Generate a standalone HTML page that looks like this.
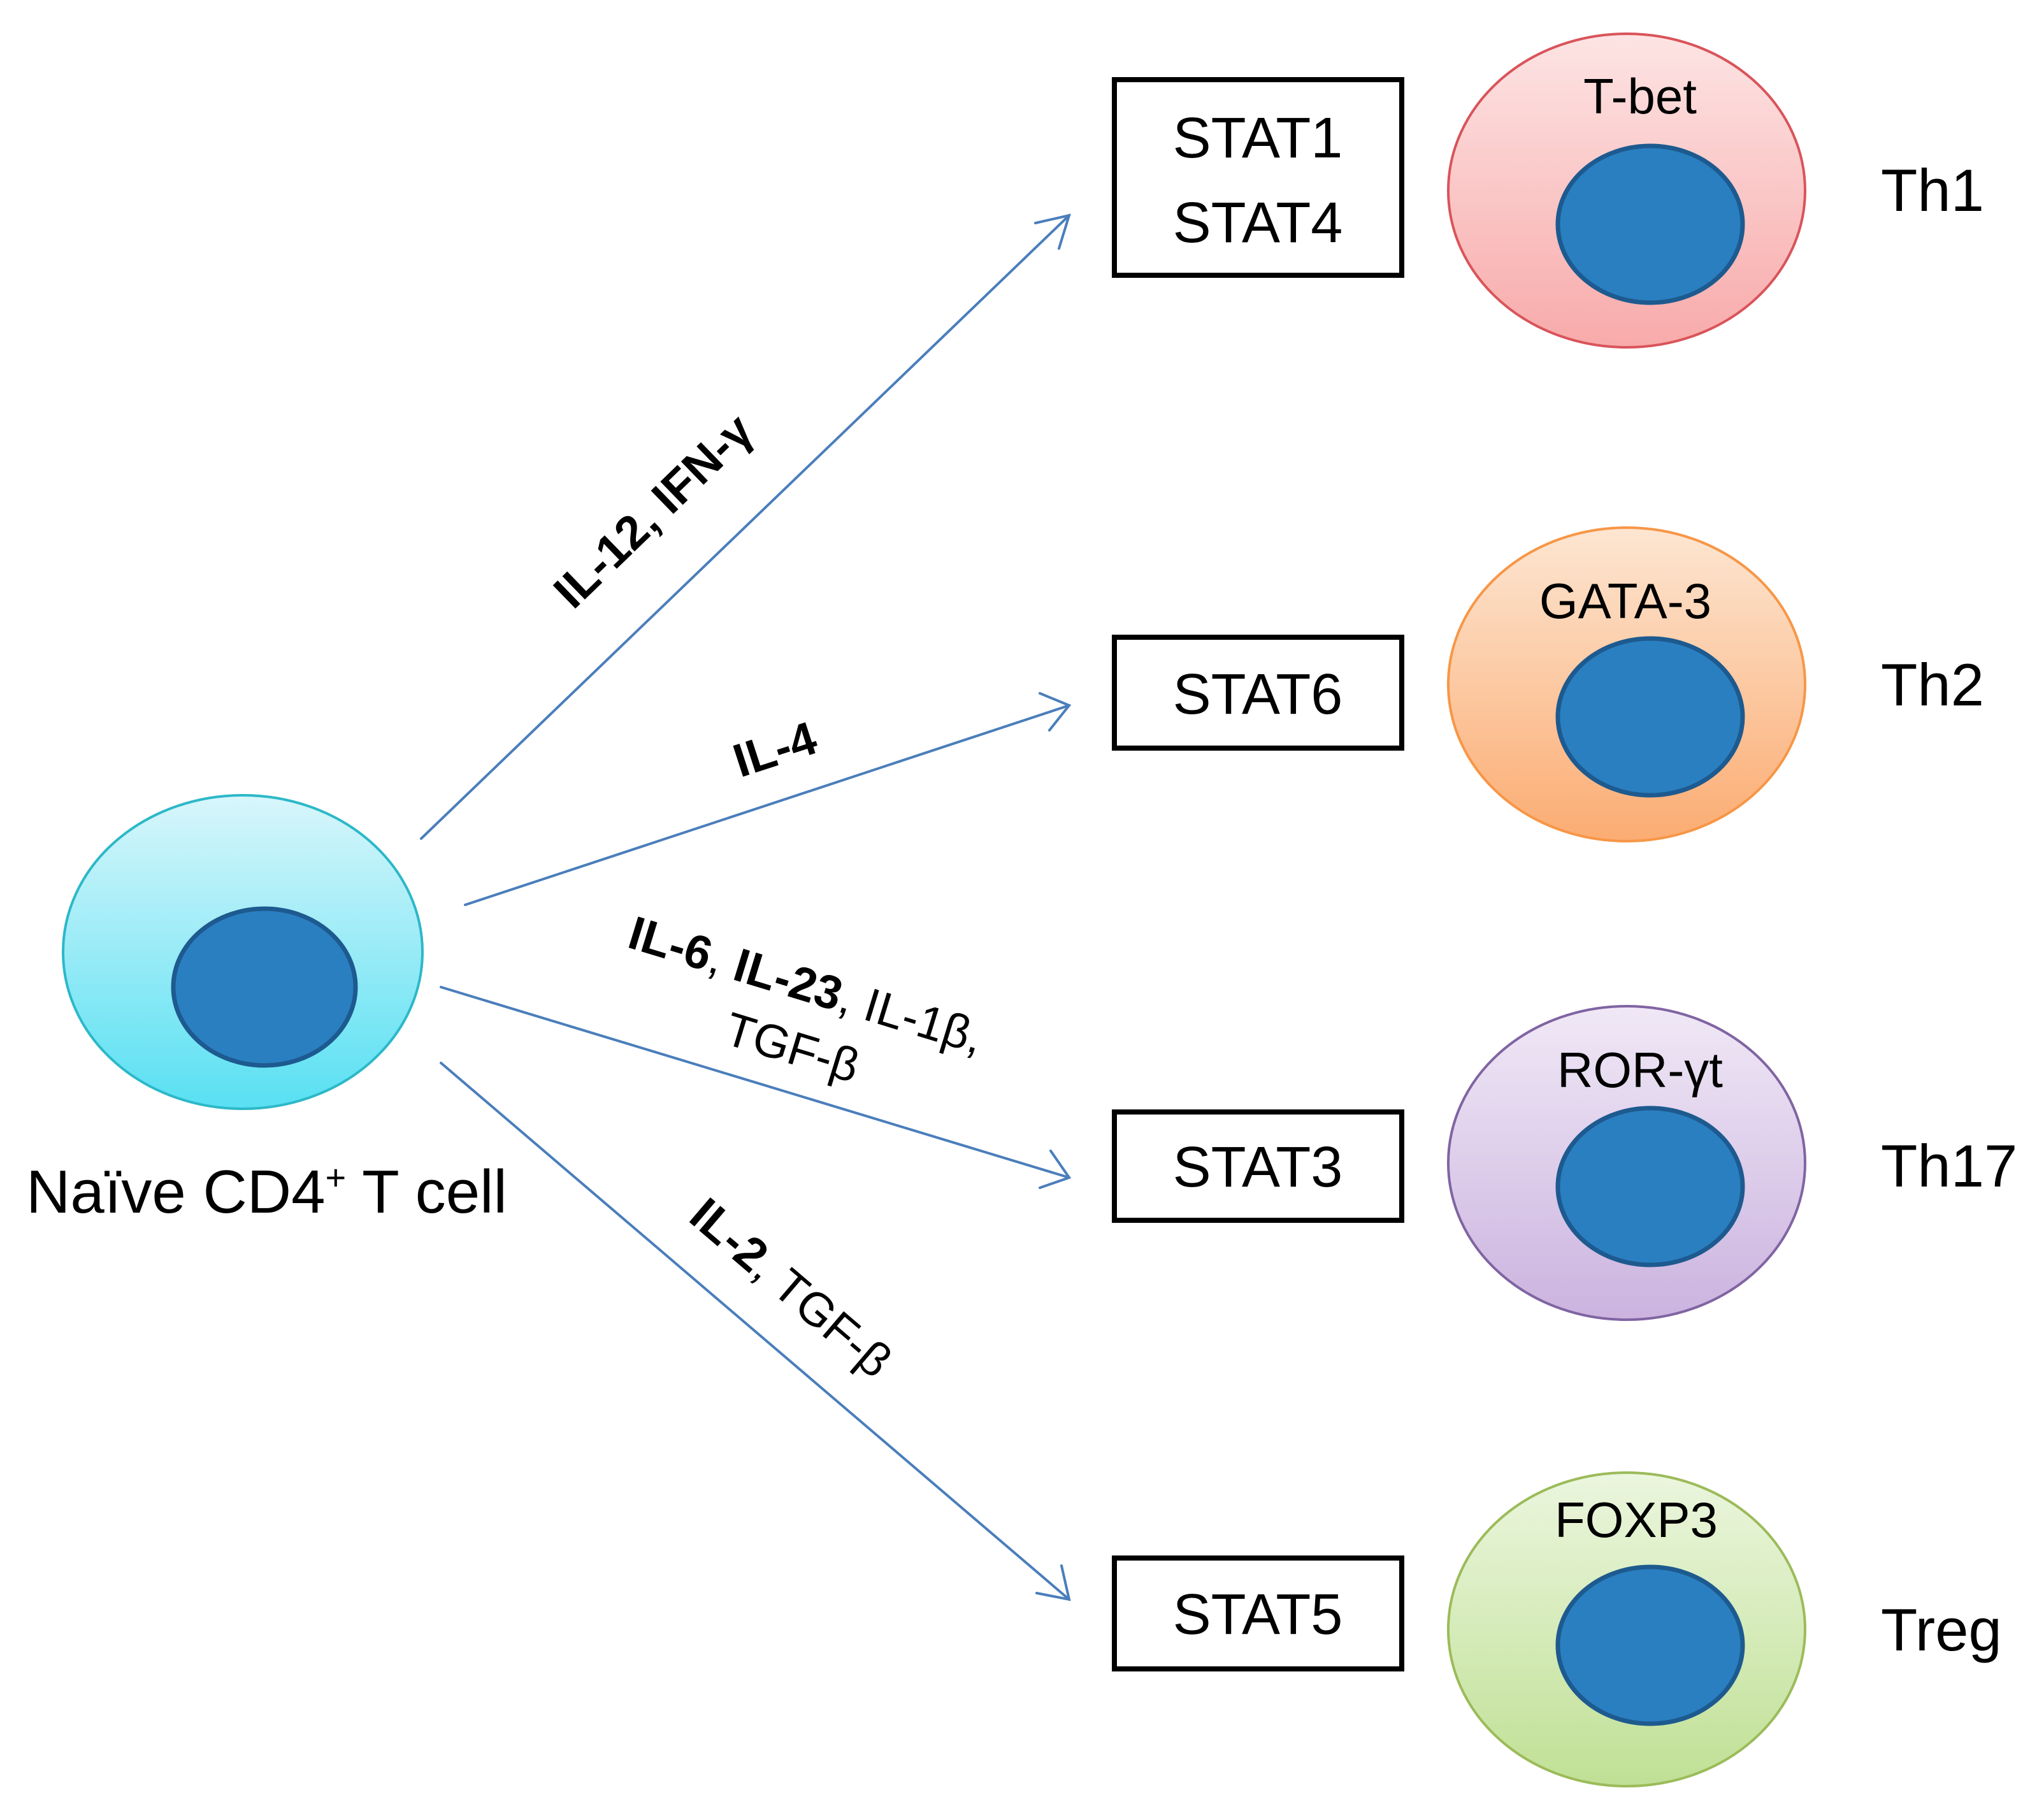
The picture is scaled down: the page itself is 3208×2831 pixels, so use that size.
<!DOCTYPE html>
<html><head><meta charset="utf-8"><style>
html,body{margin:0;padding:0;background:#fff}
svg{display:block}
text{font-family:"Liberation Sans","DejaVu Sans",sans-serif;fill:#000}
</style></head><body>
<svg width="3208" height="2831" viewBox="0 0 3208 2831" xmlns="http://www.w3.org/2000/svg">
<defs>
<linearGradient id="gN" x1="0" y1="0" x2="0" y2="1"><stop offset="0" stop-color="#d8f6fb"/><stop offset="1" stop-color="#58e0f2"/></linearGradient>
<linearGradient id="g1" x1="0" y1="0" x2="0" y2="1"><stop offset="0" stop-color="#fde4e4"/><stop offset="1" stop-color="#f8aaaa"/></linearGradient>
<linearGradient id="g2" x1="0" y1="0" x2="0" y2="1"><stop offset="0" stop-color="#fde6d2"/><stop offset="1" stop-color="#fbac72"/></linearGradient>
<linearGradient id="g3" x1="0" y1="0" x2="0" y2="1"><stop offset="0" stop-color="#f0e8f6"/><stop offset="1" stop-color="#cbb3df"/></linearGradient>
<linearGradient id="g4" x1="0" y1="0" x2="0" y2="1"><stop offset="0" stop-color="#ebf6de"/><stop offset="1" stop-color="#c0e095"/></linearGradient>
</defs>

<!-- naive cell -->
<ellipse cx="381" cy="1494" rx="282" ry="246" fill="url(#gN)" stroke="#2cb8c8" stroke-width="4"/>
<ellipse cx="415" cy="1549" rx="143" ry="123" fill="#2a7fc0" stroke="#1d5a8f" stroke-width="7"/>
<text x="41" y="1903" font-size="96">Naïve CD4<tspan font-size="56" dy="-36">+</tspan><tspan dy="36"> T cell</tspan></text>

<!-- arrows -->
<g stroke="#4a7ebb" stroke-width="4" fill="none" stroke-linecap="round">
<line x1="661" y1="1316" x2="1678" y2="338"/>
<polyline points="1625,350 1678,338 1662,390"/>
<line x1="730" y1="1420" x2="1678" y2="1107"/>
<polyline points="1632,1088 1678,1107 1647,1146"/>
<line x1="692" y1="1549" x2="1678" y2="1848"/>
<polyline points="1649,1806 1678,1848 1632,1864"/>
<line x1="692" y1="1668" x2="1678" y2="2510"/>
<polyline points="1666,2457 1678,2510 1627,2500"/>
</g>

<!-- arrow labels -->
<text font-size="74" font-weight="bold" text-anchor="middle" transform="translate(1043,820) rotate(-44)">IL-12, IFN-γ</text>
<text font-size="74" font-weight="bold" text-anchor="middle" transform="translate(1224,1200) rotate(-18)">IL-4</text>
<text font-size="74" text-anchor="middle" transform="translate(1258,1570) rotate(17)"><tspan font-weight="bold">IL-6</tspan>, <tspan font-weight="bold">IL-23</tspan>, IL-1β,</text>
<text font-size="74" text-anchor="middle" transform="translate(1236,1668) rotate(17)">TGF-β</text>
<text font-size="74" text-anchor="middle" transform="translate(1225,2040) rotate(40.5)"><tspan font-weight="bold">IL-2</tspan>, TGF-β</text>

<!-- boxes -->
<g fill="#fff" stroke="#000" stroke-width="8">
<rect x="1749" y="125" width="451" height="307"/>
<rect x="1749" y="1000" width="451" height="174"/>
<rect x="1749" y="1745" width="451" height="170"/>
<rect x="1749" y="2445" width="451" height="174"/>
</g>
<g font-size="90" text-anchor="middle">
<text x="1974" y="247">STAT1</text>
<text x="1974" y="380">STAT4</text>
<text x="1974" y="1120">STAT6</text>
<text x="1974" y="1862">STAT3</text>
<text x="1974" y="2564">STAT5</text>
</g>

<!-- cells -->
<ellipse cx="2553" cy="299" rx="280" ry="246" fill="url(#g1)" stroke="#d9545a" stroke-width="4"/>
<ellipse cx="2590" cy="352" rx="145" ry="123" fill="#2a7fc0" stroke="#1d5a8f" stroke-width="7"/>
<ellipse cx="2553" cy="1074" rx="280" ry="246" fill="url(#g2)" stroke="#f79646" stroke-width="4"/>
<ellipse cx="2590" cy="1125" rx="145" ry="123" fill="#2a7fc0" stroke="#1d5a8f" stroke-width="7"/>
<ellipse cx="2553" cy="1825" rx="280" ry="246" fill="url(#g3)" stroke="#8064a2" stroke-width="4"/>
<ellipse cx="2590" cy="1862" rx="145" ry="123" fill="#2a7fc0" stroke="#1d5a8f" stroke-width="7"/>
<ellipse cx="2553" cy="2557" rx="280" ry="246" fill="url(#g4)" stroke="#9bbb59" stroke-width="4"/>
<ellipse cx="2590" cy="2582" rx="145" ry="123" fill="#2a7fc0" stroke="#1d5a8f" stroke-width="7"/>

<g font-size="78" text-anchor="middle">
<text x="2574" y="178">T-bet</text>
<text x="2551" y="970">GATA-3</text>
<text x="2574" y="1706">ROR-γt</text>
<text x="2568" y="2412">FOXP3</text>
</g>
<g font-size="94">
<text x="2952" y="331">Th1</text>
<text x="2952" y="1107">Th2</text>
<text x="2952" y="1862">Th17</text>
<text x="2952" y="2590">Treg</text>
</g>
</svg>
</body></html>
